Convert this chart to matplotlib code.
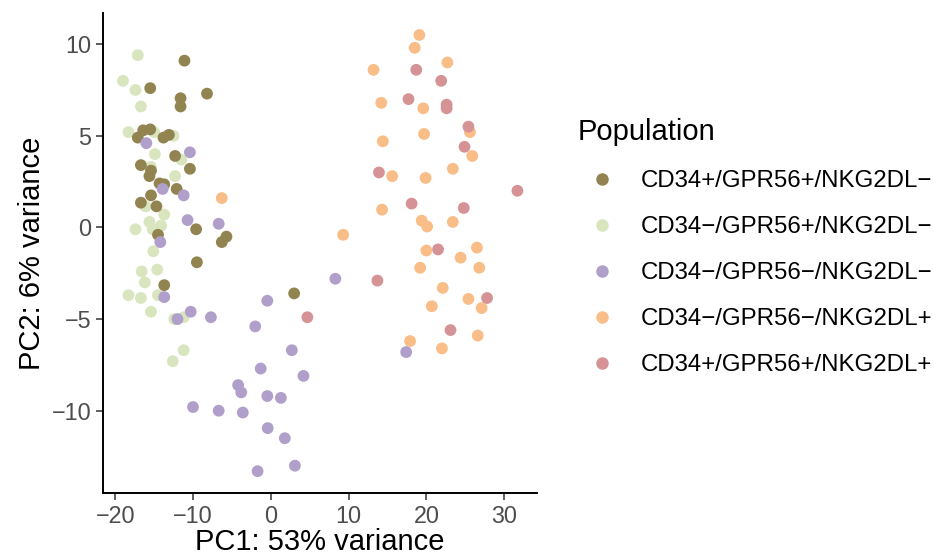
import numpy as np
import matplotlib
matplotlib.use("Agg")
import matplotlib.pyplot as plt
from matplotlib.lines import Line2D

plt.rcParams['font.family'] = ['Liberation Sans', 'DejaVu Sans']

# PCA coordinates, one pair of lists per population
olive_x = [-11.1, -15.5, -8.2, -11.6, -11.6, -16.4, -15.5, -17.1, -13.8, -13.1, -12.3, -10.4, -16.7, -15.4,
           -15.6, -14.3, -13.7, -12.1, -15.4, -16.7, -14.7, -14.5, -9.6, -6.3, -5.7, -9.5, -13.7, 3.0]
olive_y = [9.1, 7.6, 7.3, 7.05, 6.6, 5.3, 5.35, 4.9, 4.9, 5.05, 3.9, 3.2, 3.4, 3.1,
           2.8, 2.4, 2.35, 2.1, 1.75, 1.35, 1.15, -0.4, -0.1, -0.8, -0.5, -1.9, -3.15, -3.6]

lgreen_x = [-17.1, -19.0, -17.4, -16.7, -18.3, -15.0, -12.5, -14.9, -11.5, -15.4, -12.3, -16.1, -13.7, -15.6,
            -17.4, -14.1, -15.2, -15.1, -16.6, -14.6, -16.2, -18.3, -16.7, -14.5, -15.4, -12.4, -11.2, -11.2, -12.6]
lgreen_y = [9.4, 8.0, 7.5, 6.6, 5.2, 5.2, 5.0, 4.0, 3.7, 3.3, 2.8, 1.15, 0.7, 0.3,
            -0.1, 0.1, -0.1, -1.3, -2.4, -2.3, -3.0, -3.7, -3.85, -3.7, -4.6, -5.0, -4.9, -6.7, -7.3]

purple_x = [-16.0, -10.4, -13.9, -11.2, -10.7, -6.7, -14.2, -13.7, -12.0, -10.3, -7.7, -2.0, 8.3, -0.45, 2.7,
            -1.3, 4.2, -4.2, -3.8, -0.45, 1.3, -10.0, -6.7, -3.6, -0.4, 1.8, 3.1, -1.7, 17.4]
purple_y = [4.6, 4.1, 2.1, 1.75, 0.4, 0.2, -0.8, -3.8, -5.0, -4.6, -4.9, -5.4, -2.8, -4.0, -6.7,
            -7.7, -8.1, -8.6, -9.0, -9.2, -9.3, -9.8, -10.0, -10.1, -10.95, -11.5, -13.0, -13.3, -6.8]

orange_x = [-6.3, 9.3, 19.1, 18.5, 22.7, 13.2, 14.2, 19.6, 19.7, 25.6, 14.4, 25.9, 15.6, 19.9, 23.4, 14.3,
            19.4, 20.1, 23.4, 20.0, 26.5, 24.4, 19.2, 26.8, 22.1, 25.4, 27.1, 20.7, 26.6, 17.9, 22.0]
orange_y = [1.6, -0.4, 10.5, 9.8, 9.0, 8.6, 6.8, 6.5, 5.1, 5.2, 4.7, 3.9, 2.8, 2.7, 3.2, 0.97,
            0.37, 0.05, 0.3, -1.26, -1.1, -1.65, -2.2, -2.2, -3.3, -3.9, -4.4, -4.3, -5.9, -6.2, -6.6]

red_x = [18.7, 21.9, 17.7, 22.6, 22.6, 25.4, 24.9, 13.9, 31.7, 18.1, 24.8, 21.5, 13.7, 27.8, 23.1, 4.7]
red_y = [8.6, 8.0, 7.0, 6.7, 6.5, 5.5, 4.4, 3.0, 2.0, 1.3, 1.06, -1.2, -2.9, -3.85, -5.6, -4.9]

labels = ['CD34+/GPR56+/NKG2DL\u2212', 'CD34\u2212/GPR56+/NKG2DL\u2212', 'CD34\u2212/GPR56\u2212/NKG2DL\u2212',
          'CD34\u2212/GPR56\u2212/NKG2DL+', 'CD34+/GPR56+/NKG2DL+']
colours = ['#918450', '#d9e5bf', '#b09fcb', '#f9bd88', '#d69395']

groups = [(olive_x, olive_y), (lgreen_x, lgreen_y), (purple_x, purple_y),
          (orange_x, orange_y), (red_x, red_y)]
draw_order = [1, 0, 2, 3, 4]

fig = plt.figure(figsize=(9.33, 5.56), dpi=100)
ax = fig.add_axes([0.1107, 0.1133, 0.465, 0.863])

for i in draw_order:
    gx, gy = groups[i]
    ax.scatter(gx, gy, s=72, color=colours[i], edgecolors='none', zorder=3)

# ggplot-like 5% expansion
all_x = np.concatenate([np.array(g[0]) for g in groups])
all_y = np.concatenate([np.array(g[1]) for g in groups])
dx = (all_x.max() - all_x.min()) * 0.05
dy = (all_y.max() - all_y.min()) * 0.05
ax.set_xlim(all_x.min() - dx, all_x.max() + dx)
ax.set_ylim(all_y.min() - dy, all_y.max() + dy)

ax.set_xticks([-20, -10, 0, 10, 20, 30])
ax.set_yticks([-10, -5, 0, 5, 10])
ax.tick_params(labelsize=16.8, labelcolor='#4d4d4d', color='#333333', length=5, width=1.1)
for side in ['top', 'right']:
    ax.spines[side].set_visible(False)
for side in ['left', 'bottom']:
    ax.spines[side].set_linewidth(1.4)

ax.set_xlabel('PC1: 53% variance', fontsize=21, labelpad=0)
ax.set_ylabel('PC2: 6% variance', fontsize=21, labelpad=4)

handles = [Line2D([], [], marker='o', linestyle='none', markersize=9, color=c, markeredgecolor='none')
           for c in colours]
leg = ax.legend(handles, labels, title='Population', loc='upper left',
                bbox_to_anchor=(0.609, 0.805), bbox_transform=fig.transFigure,
                frameon=False, fontsize=17.3, title_fontsize=21, labelspacing=1.0,
                handletextpad=0.6, borderaxespad=0, alignment='left')

fig.savefig('out.png', dpi=100)
